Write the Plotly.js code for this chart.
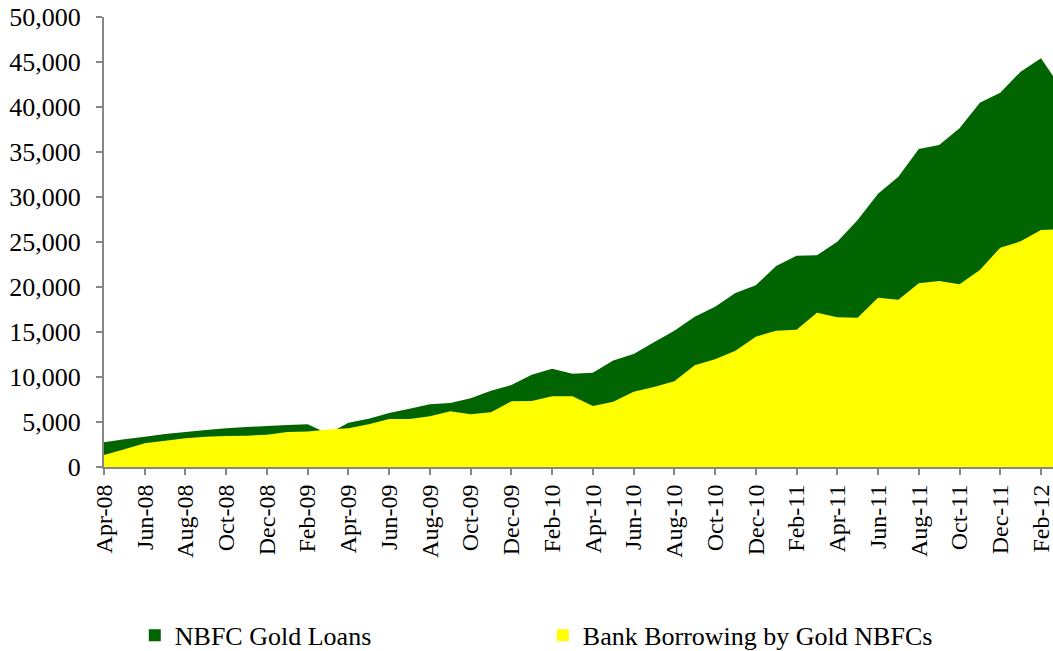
<!DOCTYPE html>
<html>
<head>
<meta charset="utf-8">
<script src="https://cdn.plot.ly/plotly-3.0.1.min.js"></script>
<style>
  html, body { margin: 0; padding: 0; background: #ffffff; }
  #chart { width: 1053px; height: 651px; }
</style>
</head>
<body>
<div id="chart"></div>
<script>
const months = [
  'Apr-08','May-08','Jun-08','Jul-08','Aug-08','Sep-08','Oct-08','Nov-08','Dec-08','Jan-09','Feb-09','Mar-09',
  'Apr-09','May-09','Jun-09','Jul-09','Aug-09','Sep-09','Oct-09','Nov-09','Dec-09','Jan-10','Feb-10','Mar-10',
  'Apr-10','May-10','Jun-10','Jul-10','Aug-10','Sep-10','Oct-10','Nov-10','Dec-10','Jan-11','Feb-11','Mar-11',
  'Apr-11','May-11','Jun-11','Jul-11','Aug-11','Sep-11','Oct-11','Nov-11','Dec-11','Jan-12','Feb-12','Mar-12'
];

const nbfcGoldLoans = [
  2740, 3070, 3370, 3670, 3890, 4110, 4300, 4440, 4560, 4670, 4740, 3700,
  4930, 5370, 6000, 6480, 6960, 7110, 7630, 8480, 9110, 10260, 10930, 10370,
  10480, 11820, 12560, 13850, 15150, 16700, 17810, 19330, 20190, 22330, 23480, 23520,
  25040, 27440, 30350, 32260, 35330, 35780, 37630, 40480, 41590, 43930, 45410, 42100
];

const bankBorrowing = [
  1330, 1980, 2630, 2930, 3190, 3370, 3440, 3480, 3590, 3890, 3950, 4170,
  4300, 4740, 5330, 5330, 5630, 6190, 5850, 6070, 7300, 7330, 7850, 7850,
  6780, 7260, 8370, 8890, 9520, 11300, 11960, 12930, 14480, 15150, 15260, 17150,
  16630, 16590, 18810, 18590, 20410, 20670, 20300, 21890, 24370, 25070, 26330, 26450
];

const seriesNames = ['NBFC Gold Loans', 'Bank Borrowing by Gold NBFCs'];
const seriesColors = ['#006400', '#FFFF00'];

const yTickVals = [0, 5000, 10000, 15000, 20000, 25000, 30000, 35000, 40000, 45000, 50000];
const xTickLabels = months.filter((m, i) => i % 2 === 0);

const FONT = '"Liberation Serif", "Times New Roman", serif';
const FS = 26;

const traces = [
  {
    x: months, y: nbfcGoldLoans, type: 'scatter', mode: 'none',
    fill: 'tozeroy', fillcolor: seriesColors[0], name: seriesNames[0],
    showlegend: false, hoverinfo: 'x+y'
  },
  {
    x: months, y: bankBorrowing, type: 'scatter', mode: 'none',
    fill: 'tozeroy', fillcolor: seriesColors[1], name: seriesNames[1],
    showlegend: false, hoverinfo: 'x+y'
  },
  // legend swatches (square markers like the reference)
  { x: [null], y: [null], type: 'bar', name: seriesNames[0], marker: { color: seriesColors[0] } },
  { x: [null], y: [null], type: 'bar', name: seriesNames[1], marker: { color: seriesColors[1] } }
];

const layout = {
  width: 1053,
  height: 651,
  margin: { l: 104, r: 0, t: 17, b: 184 },
  paper_bgcolor: '#ffffff',
  plot_bgcolor: '#ffffff',
  font: { family: FONT, size: FS, color: '#000000' },
  showlegend: true,
  legend: {
    orientation: 'h',
    xref: 'container', yref: 'container',
    x: 0.128, xanchor: 'left',
    y: 0.024, yanchor: 'middle',
    entrywidth: 363, entrywidthmode: 'pixels',
    font: { family: FONT, size: FS, color: '#000000' },
    itemwidth: 30,
    traceorder: 'normal'
  },
  xaxis: {
    type: 'category',
    range: [0, 46.59],
    tickmode: 'array',
    tickvals: xTickLabels,
    ticktext: xTickLabels,
    tickangle: -90,
    ticks: 'outside', ticklen: 6, tickwidth: 2, tickcolor: '#868686',
    showline: true, linecolor: '#868686', linewidth: 2,
    showgrid: false, zeroline: false,
    tickfont: { family: FONT, size: 24, color: '#000000' },
    fixedrange: true
  },
  yaxis: {
    range: [0, 50000],
    tickmode: 'array',
    tickvals: yTickVals,
    tickformat: ',d',
    ticks: 'outside', ticklen: 6, tickwidth: 2, tickcolor: '#868686',
    showline: true, linecolor: '#868686', linewidth: 2,
    showgrid: false, zeroline: false,
    tickfont: { family: FONT, size: FS, color: '#000000' },
    ticklabelstandoff: 10,
    fixedrange: true
  },
  barmode: 'overlay'
};

Plotly.newPlot('chart', traces, layout, { displayModeBar: false, staticPlot: true });
</script>
</body>
</html>
